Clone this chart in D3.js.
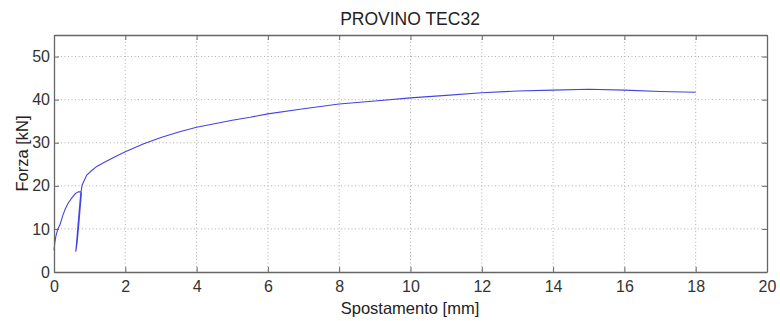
<!DOCTYPE html>
<html>
<head>
<meta charset="utf-8">
<script src="https://cdn.jsdelivr.net/npm/d3@7"></script>
<style>
  body { margin: 0; background: #fff; }
  svg { display: block; font-family: "Liberation Sans", Arial, sans-serif; }
  .grid line { stroke: #b0b0b0; stroke-dasharray: 1,2.5; }
  .tick-label { font-size: 16px; fill: #333; }
</style>
</head>
<body>
<svg id="chart" width="780" height="321"></svg>
<script>
// Prova di trazione - forza vs spostamento
const title = 'PROVINO TEC32';
const xLabel = 'Spostamento [mm]';
const yLabel = 'Forza [kN]';
const xTicks = [0, 2, 4, 6, 8, 10, 12, 14, 16, 18, 20];
const yTicks = [0, 10, 20, 30, 40, 50];

// spostamento [mm]
const spost = [0.0, 0.02, 0.05, 0.1, 0.17, 0.25, 0.31, 0.4, 0.5, 0.6, 0.68, 0.74, 0.77,
  0.73, 0.69, 0.65, 0.62, 0.61, 0.63, 0.67, 0.71, 0.75, 0.79, 0.85, 0.92, 1.05, 1.2, 1.4,
  1.7, 2.0, 2.5, 3.0, 3.5, 4.0, 4.5, 5.0, 5.5, 6.0, 7.0, 8.0, 9.0, 10.0, 11.0, 12.0,
  13.0, 14.0, 15.0, 16.0, 17.0, 18.0];
// forza [kN]
const forza = [5.0, 6.6, 8.2, 9.8, 11.0, 13.2, 14.5, 16.0, 17.2, 18.2, 18.6, 18.6, 18.3,
  14.5, 10.5, 7.0, 5.2, 4.8, 6.5, 10.5, 14.5, 18.2, 20.2, 21.3, 22.5, 23.5, 24.5, 25.4,
  26.7, 27.9, 29.7, 31.2, 32.5, 33.6, 34.4, 35.2, 35.9, 36.7, 37.9, 39.0, 39.7, 40.4, 41.0, 41.6,
  42.0, 42.2, 42.4, 42.2, 41.9, 41.7];

const svg = d3.select('#chart');
const mLeft = 54, mRight = 767, mTop = 35, mBottom = 272;

const x = d3.scaleLinear().domain([0, 20]).range([mLeft, mRight]);
const y = d3.scaleLinear().domain([0, 55]).range([mBottom, mTop]);

// grid
const grid = svg.append('g').attr('class', 'grid');
grid.selectAll('.gx')
    .data(xTicks.slice(1, -1))
    .enter()
    .append('line')
    .attr('x1', d => x(d)).attr('x2', d => x(d))
    .attr('y1', mTop).attr('y2', mBottom);
grid.selectAll('.gy')
    .data(yTicks.slice(1))
    .enter()
    .append('line')
    .attr('x1', mLeft).attr('x2', mRight)
    .attr('y1', d => y(d)).attr('y2', d => y(d));

// curve
const pts = spost.map((s, i) => [s, forza[i]]);
svg.append('path')
    .datum(pts)
    .attr('fill', 'none')
    .attr('stroke', '#4444e2')
    .attr('stroke-width', 1.1)
    .attr('stroke-linejoin', 'round')
    .attr('d', d3.line().x(d => x(d[0])).y(d => y(d[1])));

// axes with inward ticks
const axisColor = '#666';
const bx = svg.append('g').attr('transform', `translate(0,${mBottom})`)
    .call(d3.axisBottom(x).tickValues(xTicks).tickSizeInner(-5).tickSizeOuter(0).tickPadding(9));
const tx = svg.append('g').attr('transform', `translate(0,${mTop})`)
    .call(d3.axisTop(x).tickValues(xTicks).tickSizeInner(-5).tickSizeOuter(0).tickFormat(''));
const ly = svg.append('g').attr('transform', `translate(${mLeft},0)`)
    .call(d3.axisLeft(y).tickValues(yTicks).tickSizeInner(-5).tickSizeOuter(0).tickPadding(4));
const ry = svg.append('g').attr('transform', `translate(${mRight},0)`)
    .call(d3.axisRight(y).tickValues(yTicks).tickSizeInner(-5).tickSizeOuter(0).tickFormat(''));

[bx, tx, ly, ry].forEach(g => {
    g.select('.domain').attr('stroke', axisColor).attr('stroke-width', 1.3);
    g.selectAll('.tick line').attr('stroke', axisColor);
    g.selectAll('.tick text').attr('class', 'tick-label').attr('font-family', null).attr('font-size', null);
});
bx.selectAll('.tick text').attr('dy', '0.71em');

// titles
svg.append('text')
    .attr('x', 410).attr('y', 25)
    .attr('text-anchor', 'middle')
    .attr('font-size', '17.5px').attr('fill', '#222')
    .text(title);
svg.append('text')
    .attr('x', 410).attr('y', 314)
    .attr('text-anchor', 'middle')
    .attr('font-size', '16.5px').attr('fill', '#222')
    .text(xLabel);
svg.append('text')
    .attr('transform', `translate(28,${(mTop + mBottom) / 2}) rotate(-90)`)
    .attr('text-anchor', 'middle')
    .attr('font-size', '16.5px').attr('fill', '#222')
    .text(yLabel);
</script>
</body>
</html>
